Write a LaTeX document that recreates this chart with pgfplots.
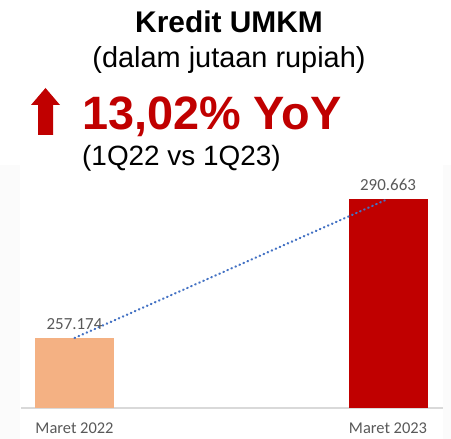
\documentclass[border=0pt]{standalone}
\usepackage{pgfplots}
\pgfplotsset{compat=1.18}
\usepackage{fontspec}
\setmainfont{Liberation Sans}
\newfontfamily\calfont{Carlito}
\definecolor{darkred}{HTML}{C00000}
\definecolor{peach}{HTML}{F4B183}
\definecolor{lblgray}{HTML}{595959}
\definecolor{trendblue}{HTML}{4472C4}
\definecolor{axgray}{HTML}{D9D9D9}
\begin{document}
\begin{tikzpicture}[x=1bp,y=1bp]
\useasboundingbox (0,0) rectangle (451,439);
\fill[white] (0,0) rectangle (451,439);
\fill[black!1.5] (0,0) rectangle (451,274);
\fill[white] (20,0) rectangle (443,274);
\begin{axis}[
  at={(21bp,31bp)}, anchor=south west,
  scale only axis, width=422bp, height=238bp,
  xmin=-0.1707, xmax=1.1754, ymin=240.31, ymax=297.64,
  axis y line=none, axis x line*=bottom,
  x axis line style={axgray, line width=1.5bp},
  xtick={0,1}, xticklabels={Maret 2022, Maret 2023},
  major tick length=0pt,
  xticklabel style={font=\calfont\fontsize{16.5}{16.5}\selectfont, text=lblgray, yshift=-11bp},
  nodes near coords style={font=\calfont\fontsize{17}{17}\selectfont, text=lblgray, yshift=5bp},
]
\addplot[ybar, bar width=0.252, bar shift=0pt, fill=peach, draw=none,
  point meta=explicit symbolic, nodes near coords] coordinates {(0,257.174) [257.174]};
\addplot[ybar, bar width=0.252, bar shift=0pt, fill=darkred, draw=none,
  point meta=explicit symbolic, nodes near coords] coordinates {(1,290.663) [290.663]};
\addplot[trendblue, line width=2.2bp, line cap=round, dash pattern=on 0.6bp off 3.8bp]
  coordinates {(0,257.174) (1,290.663)};
\end{axis}
\node[anchor=base, font=\bfseries\fontsize{30}{30}\selectfont] at (229,406) {Kredit UMKM};
\node[anchor=base, font=\fontsize{29}{29}\selectfont] at (229,371) {(dalam jutaan rupiah)};
\fill[darkred] (38,304) -- (53,304) -- (53,334) -- (60,334) -- (45.5,351) -- (31,334) -- (38,334) -- cycle;
\node[anchor=base west, inner sep=0pt, text=darkred, font=\bfseries\fontsize{47}{47}\selectfont] at (82,309) {13,02\% YoY};
\node[anchor=base west, inner sep=0pt, font=\fontsize{28}{28}\selectfont] at (82,273) {(1Q22 vs 1Q23)};
\end{tikzpicture}
\end{document}
